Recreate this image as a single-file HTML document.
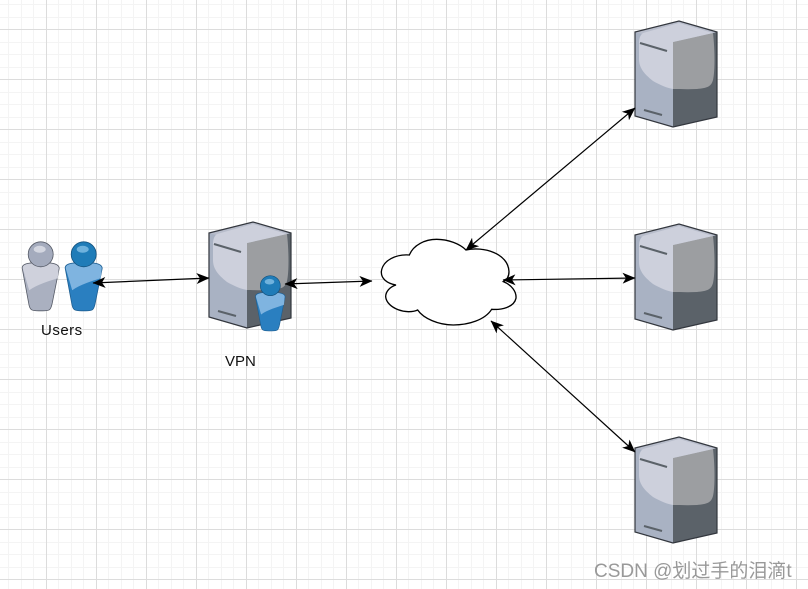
<!DOCTYPE html>
<html><head><meta charset="utf-8">
<style>
html,body{margin:0;padding:0;background:#fff;width:808px;height:589px;overflow:hidden}
svg{display:block}
</style></head>
<body>
<svg width="808" height="589" viewBox="0 0 808 589" xmlns="http://www.w3.org/2000/svg">
<defs>
<pattern id="grid" x="46" y="29" width="50" height="50" patternUnits="userSpaceOnUse">
<path d="M12.5,0V50M25.5,0V50M37.5,0V50M0,13.5H50M0,25.5H50M0,38.5H50" stroke="#f4f4f4" stroke-width="1" fill="none" shape-rendering="crispEdges"/>
<path d="M0.5,0V50M0,0.5H50" stroke="#dcdcdc" stroke-width="1" fill="none" shape-rendering="crispEdges"/>
</pattern>
<marker id="ah" viewBox="0 0 13 11" refX="12.5" refY="5.5" markerWidth="13" markerHeight="11" markerUnits="userSpaceOnUse" orient="auto-start-reverse">
<path d="M0,0 L13,5.500 L0,11 L3.500,5.500 Z" fill="#000"/>
</marker>
<g id="server">
<path d="M0,11 L44,0 L82,11 V96 L38,106 L0,95 Z" fill="#a9b2c3"/>
<path d="M38,22 L82,11 V96 L38,106 Z" fill="#5b6269"/>
<path d="M0,11 L44,0 L82,11 L38,22 Z" fill="#b8bdcb"/>
<path d="M38,21 L78,12 C80,30 80,50 78,59 C76,66 72,67 62,68 C52,68.500 44,68 38,68 Z" fill="#9c9ea1"/>
<path d="M38,21 L78,12 L44,2 L8,12 C5,14 4,18 4,22 L4,38 C4,46 8,52 18,60 C25,64 32,67 38,68 Z" fill="#cdd0dc"/>
<path d="M0,11 L44,0 L82,11 V96 L38,106 L0,95 Z" fill="none" stroke="#33373e" stroke-width="1.200"/>
<path d="M5,22 L32,30" stroke="#5b6269" stroke-width="2" fill="none"/>
<path d="M9,89 L27,94" stroke="#5b6269" stroke-width="2" fill="none"/>
</g>
<g id="pgrey">
<path d="M-8,8.500 C-14,9 -19,10 -18.500,14 L-12,49 C-11,56 -9,56.500 -2,56.500 H2 C9,56.500 10,56 11.500,49 L18.500,14 C18.500,10 13,9 8,8.500 Z" fill="#aab0c0" stroke="#555a66" stroke-width="0.8"/>
<path d="M-8,9 C-14,9.500 -18,10.500 -18,14 L-11.500,36 C-3,30 8,27 17,24 L18,14 C18,10.500 13,9.500 8,9 Z" fill="#cfd1dc"/>
<circle cx="0" cy="0" r="12.500" fill="#a4abbd" stroke="#555a66" stroke-width="0.8"/>
<ellipse cx="-1" cy="-5" rx="6" ry="3.500" fill="#d3d6e0"/>
</g>
<g id="pblue">
<path d="M-8,8.500 C-14,9 -19,10 -18.500,14 L-12,49 C-11,56 -9,56.500 -2,56.500 H2 C9,56.500 10,56 11.500,49 L18.500,14 C18.500,10 13,9 8,8.500 Z" fill="#2a7fc0" stroke="#1f5f92" stroke-width="0.8"/>
<path d="M-8,9 C-14,9.500 -18,10.500 -18,14 L-11.500,36 C-3,30 8,27 17,24 L18,14 C18,10.500 13,9.500 8,9 Z" fill="#7fb4e0"/>
<circle cx="0" cy="0" r="12.500" fill="#1f7cb8" stroke="#14527e" stroke-width="0.8"/>
<ellipse cx="-1" cy="-5" rx="6" ry="3.500" fill="#6fb2dd"/>
</g>
</defs>
<rect width="808" height="589" fill="#fff"/>
<rect width="808" height="589" fill="url(#grid)"/>

<use href="#server" x="635" y="21"/>
<use href="#server" x="635" y="224"/>
<use href="#server" x="635" y="437"/>
<use href="#server" x="209" y="222"/>

<use href="#pgrey" transform="translate(40.700,254.300)"/>
<use href="#pblue" transform="translate(83.700,254.300)"/>
<use href="#pblue" transform="translate(270.300,285.700) scale(0.800)"/>

<path transform="translate(370,230) scale(0.3333)" d="M118,75 C130,45 165,28 200,28 C235,28 270,42 288,60 C340,48 415,70 417,125 C417,140 410,150 400,155 C425,165 440,185 438,205 C432,232 395,240 365,238 C345,270 295,285 250,285 C205,285 160,265 143,240 C110,255 50,235 47,200 C47,185 60,170 78,165 C50,160 33,145 34,125 C38,90 80,72 118,75 Z" fill="#fff" stroke="#000" stroke-width="4"/>

<g stroke="#000" stroke-width="1.200" fill="none">
<line x1="93" y1="283" x2="209" y2="278" marker-start="url(#ah)" marker-end="url(#ah)"/>
<line x1="285" y1="284" x2="372" y2="281" marker-start="url(#ah)" marker-end="url(#ah)"/>
<line x1="466" y1="250" x2="635" y2="108" marker-start="url(#ah)" marker-end="url(#ah)"/>
<line x1="503" y1="280" x2="635" y2="278" marker-start="url(#ah)" marker-end="url(#ah)"/>
<line x1="491" y1="321" x2="635" y2="452" marker-start="url(#ah)" marker-end="url(#ah)"/>
</g>

<g font-family="'Liberation Sans',sans-serif" font-size="15" fill="#111">
<text x="41" y="335" letter-spacing="0.5">Users</text>
<text x="225" y="366">VPN</text>
</g>
<text x="594" y="577" font-family="'Liberation Sans','Noto Sans CJK SC',sans-serif" font-size="19" fill="#999">CSDN @划过手的泪滴t</text>
</svg>
</body></html>
